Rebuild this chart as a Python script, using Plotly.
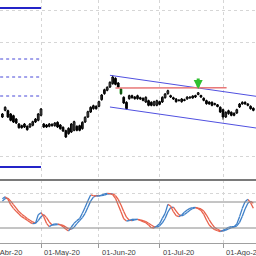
import numpy as np
import pandas as pd
import plotly.graph_objects as go

# ---------------- data ----------------
dates = pd.bdate_range("2020-04-13", "2020-08-18")
month_names = {4: "Abr", 5: "May", 6: "Jun", 7: "Jul", 8: "Ago"}
april_tick_index = -6     # position of 01-Abr-20 (trading days before first candle)

high = [8.7, 9.37, 9.03, 8.7, 8.53, 8.2, 7.7, 7.53, 7.7, 7.47,
        7.7, 7.93, 8.2, 8.7, 9.2, 7.7, 7.6, 7.7, 7.67, 7.8,
        7.87, 7.6, 7.37, 7.03, 7.27, 7.7, 7.93, 7.47, 7.53, 7.87,
        8.37, 8.93, 9.37, 9.53, 9.47, 9.93, 10.6, 11.13, 11.37, 11.87,
        12.47, 12.27, 11.8, 11.2, 10.37, 9.87, 10.53, 10.53, 10.4, 10.53,
        10.33, 10.27, 10.37, 10.03, 9.87, 9.93, 10.03, 9.93, 10.37, 10.7,
        11.03, 10.53, 10.33, 10.2, 10.07, 10.2, 10.13, 10.37, 10.37, 10.47,
        10.53, 10.8, 10.53, 10.27, 10.03, 9.87, 9.87, 9.73, 9.6, 9.37,
        9.13, 8.87, 9.03, 8.87, 8.77, 9.13, 9.7, 9.87, 9.87, 9.7,
        9.47, 9.27]
low = [8.2, 8.87, 8.2, 7.87, 7.7, 7.6, 7.13, 7.13, 7.2, 6.93,
       7.2, 7.37, 7.7, 7.87, 8.37, 7.2, 7.2, 7.27, 7.33, 7.33,
       7.2, 7.03, 6.8, 6.2, 6.53, 6.7, 6.87, 6.87, 6.87, 7.03,
       7.7, 8.2, 8.7, 9.03, 9.03, 9.27, 9.93, 10.53, 10.87, 11.2,
       11.53, 11.47, 11.2, 10.53, 9.6, 9.03, 10.03, 10.13, 10.03, 10.03,
       10.0, 9.87, 9.7, 9.37, 9.37, 9.37, 9.37, 9.47, 9.7, 10.13,
       10.53, 10.2, 10.0, 9.73, 9.87, 9.73, 9.87, 10.03, 10.13, 10.13,
       10.2, 10.47, 10.2, 9.87, 9.53, 9.53, 9.37, 9.47, 9.27, 8.7,
       8.03, 8.2, 8.53, 8.37, 8.37, 8.6, 9.2, 9.53, 9.53, 9.37,
       9.03, 8.87]
open_ = [8.3, 8.97, 8.93, 8.6, 8.43, 8.1, 7.6, 7.43, 7.3, 7.37,
         7.3, 7.47, 7.8, 7.97, 8.47, 7.6, 7.5, 7.37, 7.57, 7.43,
         7.77, 7.5, 7.27, 6.93, 6.63, 6.8, 6.97, 7.37, 7.43, 7.13,
         7.8, 8.3, 8.8, 9.13, 9.37, 9.37, 10.03, 10.63, 10.97, 11.3,
         11.63, 12.17, 11.7, 11.1, 10.27, 9.77, 10.13, 10.43, 10.3, 10.13,
         10.23, 10.17, 9.8, 9.93, 9.77, 9.47, 9.47, 9.83, 9.8, 10.23,
         10.63, 10.43, 10.23, 10.1, 10.0, 9.83, 10.03, 10.1, 10.2, 10.2,
         10.3, 10.55, 10.45, 10.17, 9.93, 9.8, 9.77, 9.53, 9.52, 9.27,
         9.03, 8.3, 8.63, 8.77, 8.67, 8.7, 9.3, 9.6, 9.77, 9.6,
         9.37, 9.17]
close = [8.6, 9.27, 8.3, 7.97, 7.8, 7.7, 7.23, 7.23, 7.6, 7.03,
         7.6, 7.83, 8.1, 8.6, 9.1, 7.3, 7.3, 7.6, 7.43, 7.7,
         7.3, 7.13, 6.9, 6.3, 7.17, 7.6, 7.83, 6.97, 6.97, 7.77,
         8.27, 8.83, 9.27, 9.43, 9.13, 9.83, 10.5, 11.03, 11.27, 11.77,
         12.3, 11.57, 11.3, 10.63, 9.7, 9.13, 10.43, 10.23, 10.13, 10.43,
         10.1, 9.97, 10.27, 9.47, 9.47, 9.83, 9.93, 9.57, 10.27, 10.6,
         10.93, 10.3, 10.1, 9.83, 9.93, 10.1, 9.95, 10.3, 10.3, 10.4,
         10.45, 10.72, 10.3, 9.97, 9.63, 9.6, 9.47, 9.65, 9.35, 8.8,
         8.3, 8.77, 8.93, 8.47, 8.47, 9.03, 9.6, 9.77, 9.6, 9.47,
         9.13, 8.97]
highlight_candle = 43          # green candle
signal_candle = 71             # green arrow
signal_price = 11.1

# stochastic oscillator (%K, %D)
stoch_k = [87.7, 92.3, 86.2, 73.9, 65.4, 58.5, 52.3, 46.2, 42.3, 37.7,
           33.1, 30.0, 30.8, 50.8, 55.4, 46.2, 30.8, 23.1, 27.0, 29.3,
           29.3, 27.0, 23.1, 17.0, 13.1, 22.3, 30.8, 37.0, 41.6, 53.9,
           67.7, 83.1, 96.2, 94.6, 93.9, 93.9, 96.2, 98.5, 100.0, 99.2,
           97.0, 88.5, 73.1, 57.7, 41.6, 36.2, 37.0, 40.0, 40.0, 40.0,
           37.7, 34.7, 32.4, 27.0, 20.8, 20.0, 24.6, 30.0, 42.3, 53.9,
           74.6, 70.8, 57.7, 48.5, 46.2, 50.0, 56.2, 61.6, 65.4, 67.0,
           67.7, 64.6, 60.8, 51.6, 38.5, 27.0, 20.8, 16.2, 13.9, 11.6,
           14.7, 17.7, 21.6, 23.1, 23.1, 29.3, 46.2, 65.4, 80.8, 86.2,
           78.5, 65.4]
stoch_d = [82, 88, 89, 82, 74, 66, 58, 52, 47, 42,
           38, 34, 31, 37, 46, 51, 44, 34, 27, 27,
           28, 28, 26, 22, 18, 17, 22, 30, 37, 44,
           54, 68, 82, 91, 95, 94, 95, 96, 98, 99,
           99, 95, 86, 73, 58, 45, 38, 37, 39, 40,
           39, 37, 35, 31, 27, 23, 22, 25, 32, 42,
           57, 67, 68, 59, 51, 48, 51, 56, 61, 65,
           67, 66, 64, 59, 50, 39, 29, 21, 17, 14,
           13, 15, 18, 21, 22, 25, 33, 47, 64, 77,
           82, 77]
stoch_levels = [80, 20]

# drawn objects (index, price)
channel_upper_x = [39, 92]
channel_upper_y = [12.47, 10.37]
channel_lower_x = [39, 92]
channel_lower_y = [9.30, 7.20]
resist_x = [41, 81.3]
resist_y = [11.2, 11.22]
solid_levels = [19.2, 3.3]
dashed_levels = [14.1, 12.3, 10.4]
levels_end_date = "2020-05-01"

# ---------------- build ----------------
X_RANGE = [-0.87, 91.96]
idx = list(range(len(dates)))
month_start = [i for i in idx if i > 0 and dates[i].month != dates[i - 1].month]
tick_idx = [april_tick_index] + month_start
tick_dates = [pd.Timestamp("2020-04-01")] + [dates[i] for i in month_start]
tick_text = ["01-%s-%s" % (month_names[d.month], d.strftime("%y")) for d in tick_dates]
levels_end = idx[list(dates.strftime("%Y-%m-%d")).index(levels_end_date)]

fig = go.Figure()

# wicks
wx, wy = [], []
for i in idx:
    wx += [i, i, None]; wy += [low[i], high[i], None]
fig.add_trace(go.Scatter(x=wx, y=wy, mode="lines", line=dict(color="black", width=1),
                         showlegend=False, hoverinfo="skip", xaxis="x", yaxis="y"))

# bodies
body_base = [min(o, c) for o, c in zip(open_, close)]
body_h = [max(abs(c - o), 0.04) for o, c in zip(open_, close)]
fills = []
for i in idx:
    if i == highlight_candle:
        fills.append("#22c022")
    elif close[i] >= open_[i]:
        fills.append("white")
    else:
        fills.append("black")
lines_c = ["#1a9a1a" if i == highlight_candle else "black" for i in idx]
fig.add_trace(go.Bar(x=idx, y=body_h, base=body_base, width=0.62,
                     marker=dict(color=fills, line=dict(color=lines_c, width=1)),
                     showlegend=False, hoverinfo="skip", xaxis="x", yaxis="y"))

# levels on the left
for lv in solid_levels:
    fig.add_trace(go.Scatter(x=[-3, levels_end], y=[lv, lv], mode="lines",
                             line=dict(color="#2424c8", width=2), showlegend=False,
                             hoverinfo="skip", xaxis="x", yaxis="y"))
for lv in dashed_levels:
    fig.add_trace(go.Scatter(x=[-3, levels_end], y=[lv, lv], mode="lines",
                             line=dict(color="#4848d8", width=1, dash="dot"), showlegend=False,
                             hoverinfo="skip", xaxis="x", yaxis="y"))

# channel and resistance
for cx, cy in [(channel_upper_x, channel_upper_y), (channel_lower_x, channel_lower_y)]:
    fig.add_trace(go.Scatter(x=cx, y=cy, mode="lines", line=dict(color="#5050e0", width=1),
                             showlegend=False, hoverinfo="skip", xaxis="x", yaxis="y"))
fig.add_trace(go.Scatter(x=resist_x, y=resist_y, mode="lines", line=dict(color="#e87878", width=1.5),
                         showlegend=False, hoverinfo="skip", xaxis="x", yaxis="y"))

# stochastic lines, coloured by slope
def seg_traces(vals):
    bx, by, rx, ry = [], [], [], []
    for i in range(len(vals) - 1):
        if vals[i + 1] >= vals[i]:
            bx += [i, i + 1, None]; by += [vals[i], vals[i + 1], None]
        else:
            rx += [i, i + 1, None]; ry += [vals[i], vals[i + 1], None]
    return bx, by, rx, ry

for vals in (stoch_d, stoch_k):
    bx, by, rx, ry = seg_traces(vals)
    fig.add_trace(go.Scatter(x=rx, y=ry, mode="lines", line=dict(color="#e8604a", width=1.3),
                             showlegend=False, hoverinfo="skip", xaxis="x", yaxis="y2"))
    fig.add_trace(go.Scatter(x=bx, y=by, mode="lines", line=dict(color="#3f80c8", width=1.3),
                             showlegend=False, hoverinfo="skip", xaxis="x", yaxis="y2"))

split = 1 - 180 / 256
bottom = 1 - 243 / 256

shapes = []
for lv in stoch_levels:
    shapes.append(dict(type="line", xref="paper", x0=0, x1=1, yref="y2", y0=lv, y1=lv,
                       line=dict(color="#8a8a8a", width=1)))
shapes.append(dict(type="line", xref="paper", x0=0, x1=1, yref="paper", y0=split, y1=split,
                   line=dict(color="#7a7a7a", width=2)))

annotations = []
for ti, tt in zip(tick_idx, tick_text):
    xp = (ti - X_RANGE[0]) / (X_RANGE[1] - X_RANGE[0])
    annotations.append(dict(x=xp, y=1 - 245.5 / 256, xref="paper", yref="paper", text=tt,
                            showarrow=False, xanchor="left", yanchor="top", xshift=1,
                            font=dict(family="Liberation Sans", size=7.5, color="#404040")))
annotations.append(dict(x=signal_candle, y=signal_price, xref="x", yref="y", text="",
                        showarrow=True, ax=0, ay=-12, arrowhead=2, arrowsize=0.6,
                        arrowwidth=3, arrowcolor="#30c030"))

fig.update_layout(
    width=256, height=256, margin=dict(l=0, r=0, t=0, b=0),
    paper_bgcolor="white", plot_bgcolor="white", showlegend=False, barmode="overlay",
    xaxis=dict(range=X_RANGE, anchor="y2", tickvals=month_start, showticklabels=False,
               ticks="outside", ticklen=4, tickcolor="#9a9a9a", showgrid=True,
               gridcolor="#d6d6d6", griddash="dot", gridwidth=1, showline=True,
               linecolor="#a0a0a0", linewidth=1, zeroline=False),
    yaxis=dict(domain=[split, 1], range=[2, 20], tickvals=[19.0, 15.8, 4.4],
               showticklabels=False, showgrid=True, gridcolor="#d6d6d6", griddash="dot",
               zeroline=False),
    yaxis2=dict(domain=[bottom, split], range=[-14.6, 130.8], tickvals=[100],
                showticklabels=False, showgrid=True, gridcolor="#d6d6d6", griddash="dot",
                zeroline=False),
    shapes=shapes, annotations=annotations,
)

fig.write_html("out.html")
